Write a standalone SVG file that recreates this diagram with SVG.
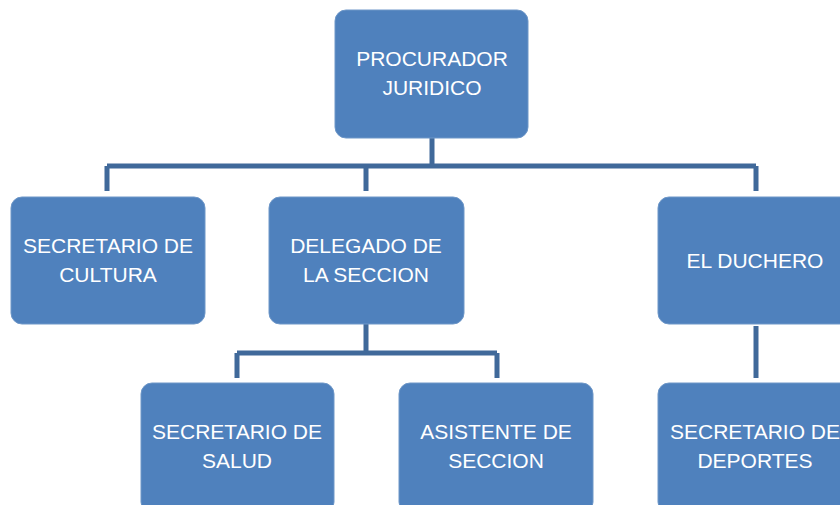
<svg xmlns="http://www.w3.org/2000/svg" width="840" height="505" viewBox="0 0 840 505">
<style>
.box{fill:#4F81BD;stroke:#6E97C8;stroke-width:1}
.lbl{fill:#FFFFFF;font-family:"Liberation Sans",Arial,sans-serif;font-size:21px;text-anchor:middle}
.conn{fill:none;stroke:#40699A;stroke-width:5}
</style>
<rect width="840" height="505" fill="#FFFFFF"/>
<g id="connectors">
<path class="conn" d="M432 138V166M107 166H756M107 166V191M366 166V191M756 166V191"/>
<path class="conn" d="M366 324V353M237 353H497M237 353V378M497 353V378"/>
<path class="conn" d="M756 326V378"/>
</g>
<g id="n-procurador"><rect class="box" x="335" y="10" width="193" height="128" rx="11"/><text class="lbl" x="432" y="66">PROCURADOR</text><text class="lbl" x="432" y="95">JURIDICO</text></g>
<g id="n-cultura"><rect class="box" x="11" y="197" width="194" height="127" rx="11"/><text class="lbl" x="108" y="253">SECRETARIO DE</text><text class="lbl" x="108" y="282">CULTURA</text></g>
<g id="n-delegado"><rect class="box" x="269" y="197" width="195" height="127" rx="11"/><text class="lbl" x="366" y="253">DELEGADO DE</text><text class="lbl" x="366" y="282">LA SECCION</text></g>
<g id="n-duchero"><rect class="box" x="658" y="197" width="194" height="127" rx="11"/><text class="lbl" x="755" y="268">EL DUCHERO</text></g>
<g id="n-salud"><rect class="box" x="141" y="383" width="193" height="130" rx="11"/><text class="lbl" x="237" y="439">SECRETARIO DE</text><text class="lbl" x="237" y="468">SALUD</text></g>
<g id="n-asistente"><rect class="box" x="399" y="383" width="194" height="130" rx="11"/><text class="lbl" x="496" y="439">ASISTENTE DE</text><text class="lbl" x="496" y="468">SECCION</text></g>
<g id="n-deportes"><rect class="box" x="658" y="383" width="194" height="130" rx="11"/><text class="lbl" x="755" y="439">SECRETARIO DE</text><text class="lbl" x="755" y="468">DEPORTES</text></g>
</svg>
